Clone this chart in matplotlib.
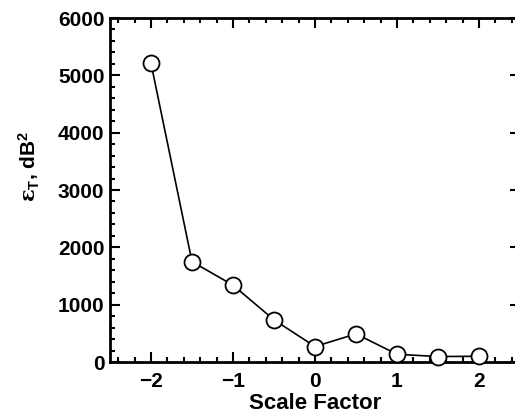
import matplotlib
matplotlib.use("Agg")
import matplotlib.pyplot as plt
from matplotlib.ticker import MultipleLocator

plt.rcParams['font.family'] = ['Liberation Sans', 'DejaVu Sans']
plt.rcParams['font.weight'] = 'bold'
plt.rcParams['mathtext.fontset'] = 'custom'
plt.rcParams['mathtext.rm'] = 'Liberation Sans:bold'
plt.rcParams['mathtext.bf'] = 'Liberation Sans:bold'
plt.rcParams['mathtext.it'] = 'DejaVu Serif'

scale_factor = [-2.0, -1.5, -1.0, -0.5, 0.0, 0.5, 1.0, 1.5, 2.0]
eps_T = [5210, 1750, 1340, 735, 270, 490, 135, 95, 100]

fig = plt.figure(figsize=(5.15, 4.17), dpi=100)
ax = fig.add_axes([110/515, 1-362/417, (520-110)/515, (362-18)/417])

ax.plot(scale_factor, eps_T, color='black', lw=1.2, marker='o', ms=11.5,
        mfc='white', mec='black', mew=1.3, zorder=3, clip_on=False)

ax.set_xlim(-2.5, 2.5)
ax.set_ylim(0, 6000)
ax.xaxis.set_major_locator(MultipleLocator(1))
ax.xaxis.set_minor_locator(MultipleLocator(0.2))
ax.yaxis.set_major_locator(MultipleLocator(1000))
ax.yaxis.set_minor_locator(MultipleLocator(200))
ax.tick_params(which='both', direction='in', top=True, right=True, width=1.5,
               labelsize=15)
ax.tick_params(axis='x', which='major', pad=7)
ax.tick_params(axis='y', which='major', pad=4)
ax.tick_params(which='major', length=7)
ax.tick_params(which='minor', length=3.5)
for s in ax.spines.values():
    s.set_linewidth(2)
for lab in ax.get_xticklabels() + ax.get_yticklabels():
    lab.set_fontweight('bold')

ax.set_xlabel('Scale Factor', fontsize=16, fontweight='bold')
ax.xaxis.set_label_coords(0.5, -0.09)
ax.set_ylabel(r'$\varepsilon_{\mathbf{T}}$, dB$^{\mathbf{2}}$', fontsize=15,
              fontweight='bold')
ax.yaxis.set_label_coords(-0.166, 0.57)

fig.savefig('out.png', dpi=100)
